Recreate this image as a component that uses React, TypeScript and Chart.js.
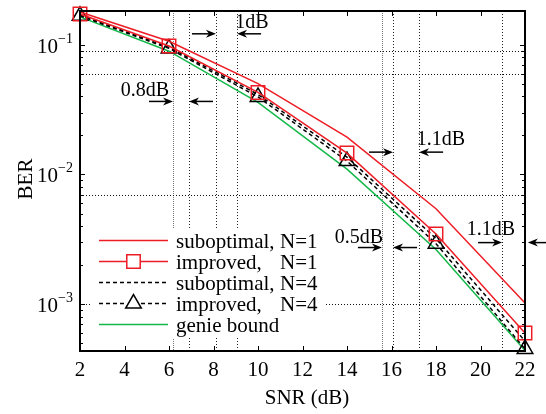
import React, { useEffect, useRef } from 'react';
import { Chart, registerables } from 'chart.js';

Chart.register(...registerables);

// ---------- data ----------
const snr = [2, 6, 10, 14, 18, 22];
const suboptimalN1 = [0.179, 0.1063, 0.0502, 0.0194, 0.00545, 0.00102];
const improvedN1 = [0.1727, 0.0977, 0.0429, 0.01462, 0.00348, 0.0006];
const suboptimalN4 = [0.169, 0.0955, 0.0414, 0.0136, 0.00321, 0.00052];
const improvedN4 = [0.167, 0.0937, 0.0396, 0.0127, 0.00293, 0.000452];
const genieBound = [0.164, 0.0892, 0.036, 0.011, 0.00264, 0.00044];

const seriesNames = ['suboptimal,', 'improved,', 'suboptimal,', 'improved,', 'genie bound'];
const seriesN = ['N=1', 'N=1', 'N=4', 'N=4', ''];

const xTickValues = [2, 4, 6, 8, 10, 12, 14, 16, 18, 20, 22];
const yDecades = [1e-1, 1e-2, 1e-3];
const yDecadeExponents = ['\u22121', '\u22122', '\u22123'];

// reference (dotted) lines
const refSnr = [6.18, 6.9, 8.11, 9.06, 15.57, 16.07, 17.24, 20.97];
const refSnrLight = [true, false, false, false, true, false, false, false];
const refBer = [0.09, 0.06, 0.007, 0.001];

// gap annotations
const gapText = ['1dB', '0.8dB', '1.1dB', '0.5dB', '1.1dB'];
const gapTextSnr = [9.73, 4.92, 18.22, 14.54, 20.47];
const gapTextBer = [0.1474, 0.0444, 0.01838, 0.00326, 0.003758];
const gapArrowBer = [0.1214, 0.03657, 0.01487, 0.002735, 0.002985];
const gapFromSnr = [8.11, 6.18, 16.07, 15.57, 20.97];
const gapToSnr = [9.06, 6.9, 17.24, 16.07, 22.13];

const SERIF = "'Liberation Serif', 'Times New Roman', serif";
const RED = '#ee1c25';
const GREEN = '#14b84a';

const seriesData = [suboptimalN1, improvedN1, suboptimalN4, improvedN4, genieBound];
const seriesColor = [RED, RED, '#000', '#000', GREEN];
const seriesDash = [[], [], [4, 3], [4, 3], []];
const seriesMarker: (string | false)[] = [false, 'rect', false, 'triangle', false];

function drawArrow(ctx: CanvasRenderingContext2D, tail: number, tip: number, y: number) {
  const dir = Math.sign(tip - tail);
  const head = 10;
  const hw = 4;
  ctx.beginPath();
  ctx.moveTo(tail, y);
  ctx.lineTo(tip - dir * head * 0.7, y);
  ctx.stroke();
  ctx.beginPath();
  ctx.moveTo(tip, y);
  ctx.lineTo(tip - dir * head, y - hw);
  ctx.lineTo(tip - dir * head * 0.7, y);
  ctx.lineTo(tip - dir * head, y + hw);
  ctx.closePath();
  ctx.fill();
}

function drawMarker(ctx: CanvasRenderingContext2D, style: string | false, x: number, y: number, color: string) {
  if (!style) return;
  ctx.save();
  ctx.setLineDash([]);
  ctx.strokeStyle = color;
  ctx.lineWidth = 1.5;
  ctx.beginPath();
  if (style === 'rect') {
    const s = 9.5 * Math.SQRT1_2;
    ctx.rect(x - s, y - s, 2 * s, 2 * s);
  } else if (style === 'triangle') {
    const r = 9;
    ctx.moveTo(x, y - r);
    ctx.lineTo(x + r * Math.sin((2 * Math.PI) / 3), y - r * Math.cos((2 * Math.PI) / 3));
    ctx.lineTo(x - r * Math.sin((2 * Math.PI) / 3), y - r * Math.cos((2 * Math.PI) / 3));
    ctx.closePath();
  }
  ctx.stroke();
  ctx.restore();
}

const decorPlugin = {
  id: 'decor',
  beforeDatasetsDraw(chart: any) {
    const { ctx, chartArea: a, scales } = chart;
    const x = scales.x;
    const y = scales.y;
    ctx.save();
    ctx.lineWidth = 1;
    refSnr.forEach((v, i) => {
      const px = Math.round(x.getPixelForValue(v)) + 0.5;
      ctx.strokeStyle = refSnrLight[i] ? '#777' : '#222';
      ctx.setLineDash(refSnrLight[i] ? [1, 1] : [1, 2]);
      ctx.beginPath();
      ctx.moveTo(px, a.top);
      ctx.lineTo(px, a.bottom);
      ctx.stroke();
    });
    ctx.strokeStyle = '#111';
    ctx.setLineDash([1, 2]);
    refBer.forEach((v) => {
      const py = Math.round(y.getPixelForValue(v)) + 0.5;
      ctx.beginPath();
      ctx.moveTo(a.left, py);
      ctx.lineTo(a.right, py);
      ctx.stroke();
    });
    ctx.restore();
  },
  afterDatasetsDraw(chart: any) {
    const { ctx } = chart;
    // legend
    ctx.save();
    ctx.fillStyle = '#fff';
    ctx.fillRect(92, 228, 234, 110);
    const rows = [240.5, 261.5, 282.5, 303.5, 324.5];
    rows.forEach((ry, i) => {
      ctx.save();
      ctx.strokeStyle = seriesColor[i];
      ctx.lineWidth = 1.5;
      ctx.setLineDash(seriesDash[i]);
      ctx.beginPath();
      ctx.moveTo(99, ry);
      ctx.lineTo(168, ry);
      ctx.stroke();
      ctx.restore();
      if (seriesMarker[i]) {
        ctx.fillStyle = '#fff';
        ctx.fillRect(126, ry - 8, 15, 14);
        drawMarker(ctx, seriesMarker[i], 133.5, ry, seriesColor[i]);
      }
      ctx.fillStyle = '#000';
      ctx.font = `21px ${SERIF}`;
      ctx.textAlign = 'left';
      ctx.textBaseline = 'alphabetic';
      ctx.fillText(seriesNames[i], 176, ry + 7);
      if (seriesN[i]) ctx.fillText(seriesN[i], 280, ry + 7);
    });
    ctx.restore();
  },
  afterDraw(chart: any) {
    const { ctx, chartArea: a, scales } = chart;
    const x = scales.x;
    const y = scales.y;
    ctx.save();
    // ticks
    ctx.strokeStyle = '#000';
    ctx.lineWidth = 1;
    ctx.setLineDash([]);
    xTickValues.forEach((v) => {
      const px = Math.round(x.getPixelForValue(v)) + 0.5;
      ctx.beginPath();
      ctx.moveTo(px, a.bottom);
      ctx.lineTo(px, a.bottom - 5);
      ctx.moveTo(px, a.top);
      ctx.lineTo(px, a.top + 5);
      ctx.stroke();
    });
    const minV = y.min;
    const maxV = y.max;
    for (let e = -4; e <= 0; e++) {
      for (let k = 1; k <= 9; k++) {
        const v = k * Math.pow(10, e);
        if (v < minV || v > maxV) continue;
        const len = k === 1 ? 5 : 3;
        const py = Math.round(y.getPixelForValue(v)) + 0.5;
        ctx.beginPath();
        ctx.moveTo(a.left, py);
        ctx.lineTo(a.left + len, py);
        ctx.moveTo(a.right, py);
        ctx.lineTo(a.right - len, py);
        ctx.stroke();
      }
    }
    // frame
    ctx.lineWidth = 2;
    ctx.strokeRect(a.left, a.top, a.right - a.left, a.bottom - a.top);

    // y tick labels
    ctx.fillStyle = '#000';
    yDecades.forEach((v, i) => {
      const py = y.getPixelForValue(v);
      ctx.font = `21px ${SERIF}`;
      ctx.textAlign = 'right';
      ctx.textBaseline = 'alphabetic';
      ctx.fillText('10', 58, py + 8);
      ctx.font = `14px ${SERIF}`;
      ctx.textAlign = 'left';
      ctx.fillText(yDecadeExponents[i], 58, py - 2);
    });

    // axis titles
    ctx.font = `21px ${SERIF}`;
    ctx.textAlign = 'center';
    ctx.textBaseline = 'alphabetic';
    ctx.fillText('SNR (dB)', 307, 404);
    ctx.save();
    ctx.translate(32, 179);
    ctx.rotate(-Math.PI / 2);
    ctx.fillText('BER', 0, 0);
    ctx.restore();

    // gap annotations
    ctx.lineWidth = 1.5;
    ctx.strokeStyle = '#000';
    ctx.fillStyle = '#000';
    gapText.forEach((t, i) => {
      const ay = y.getPixelForValue(gapArrowBer[i]);
      const fromX = x.getPixelForValue(gapFromSnr[i]);
      const toX = x.getPixelForValue(gapToSnr[i]);
      drawArrow(ctx, fromX - 24, fromX, ay);
      drawArrow(ctx, toX + 24, toX, ay);
      ctx.font = `20px ${SERIF}`;
      ctx.textAlign = 'center';
      ctx.textBaseline = 'middle';
      ctx.fillText(t, x.getPixelForValue(gapTextSnr[i]), y.getPixelForValue(gapTextBer[i]));
    });
    ctx.restore();
  },
};

export default function App() {
  const ref = useRef<HTMLCanvasElement | null>(null);
  useEffect(() => {
    if (!ref.current) return;
    const datasets = seriesData.map((arr, i) => ({
      label: seriesNames[i] + ' ' + seriesN[i],
      data: snr.map((s, j) => ({ x: s, y: arr[j] })),
      borderColor: seriesColor[i],
      backgroundColor: 'rgba(0,0,0,0)',
      borderWidth: 1.5,
      borderDash: seriesDash[i],
      pointStyle: seriesMarker[i] || 'circle',
      pointRadius: seriesMarker[i] ? (seriesMarker[i] === 'rect' ? 9.5 : 9) : 0,
      pointBorderColor: seriesColor[i],
      pointBackgroundColor: 'rgba(0,0,0,0)',
      pointBorderWidth: 1.5,
      tension: 0,
      clip: false as any,
      fill: false,
    }));
    const chart = new Chart(ref.current, {
      type: 'line',
      data: { datasets },
      options: {
        responsive: false,
        maintainAspectRatio: false,
        devicePixelRatio: 1,
        animation: false,
        events: [],
        layout: { padding: { top: 9, right: 21, left: 0, bottom: 0 } },
        plugins: { legend: { display: false }, tooltip: { enabled: false } },
        scales: {
          x: {
            type: 'linear',
            min: 2,
            max: 22,
            grid: { display: false, drawTicks: false },
            border: { display: false },
            ticks: {
              stepSize: 2,
              autoSkip: false,
              maxRotation: 0,
              padding: 7,
              color: '#000',
              font: { family: SERIF, size: 21 },
            },
            afterFit: (s: any) => {
              s.height = 63;
            },
          },
          y: {
            type: 'logarithmic',
            min: 0.000436,
            max: 0.182,
            grid: { display: false, drawTicks: false },
            border: { display: false },
            ticks: { display: false },
            afterFit: (s: any) => {
              s.width = 80;
            },
          },
        },
      },
      plugins: [decorPlugin],
    });
    return () => chart.destroy();
  }, []);
  return (
    <div style={{ position: 'absolute', left: 0, top: 0, width: 546, height: 414, background: '#fff' }}>
      <canvas ref={ref} width={546} height={414} style={{ display: 'block', width: 546, height: 414 }} />
    </div>
  );
}
